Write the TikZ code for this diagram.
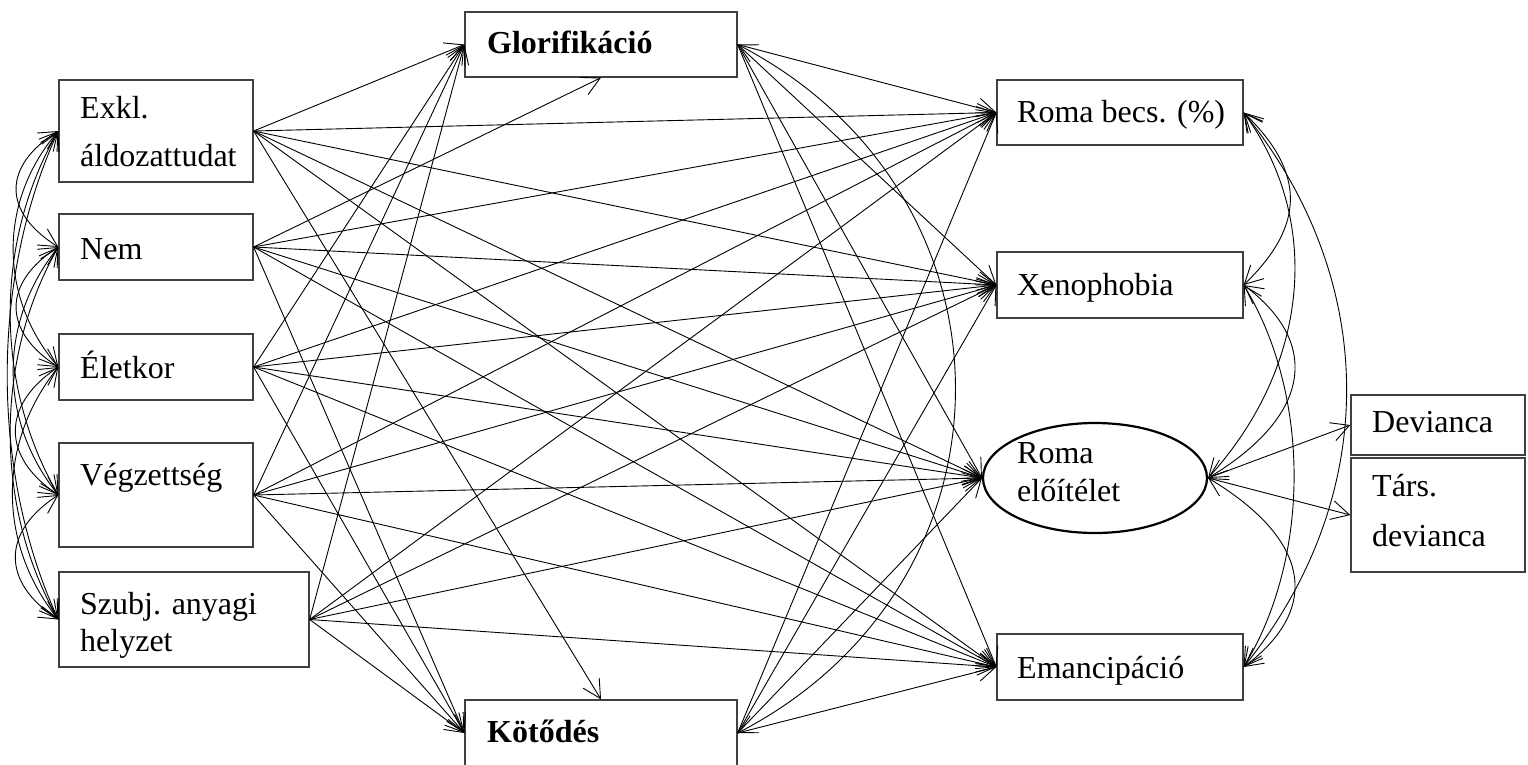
\documentclass[tikz,border=0pt]{standalone}
\usepackage{fontspec}
\setmainfont{Liberation Serif}
\usetikzlibrary{arrows.meta,shapes.geometric}
\begin{document}
\begin{tikzpicture}[x=1pt,y=-1pt,
  box/.style={draw=black!75, line width=1.3pt, rectangle, inner sep=0pt},
  lbl/.style={anchor=base west, inner sep=0pt, font=\fontsize{32}{38}\selectfont},
  blbl/.style={anchor=base west, inner sep=0pt, font=\fontsize{32}{38}\selectfont\bfseries},
  barb/.tip={Straight Barb[length=18pt,width=19pt]},
  pth/.style={line width=0.9pt, -barb},
  cor/.style={line width=0.9pt, barb-barb},
]
\useasboundingbox (0,0) rectangle (1528,764);
% boxes
\node[box, minimum width=194pt, minimum height=102pt] (exkl) at (156,131) {};
\node[box, minimum width=194pt, minimum height=66pt] (nem) at (156,247) {};
\node[box, minimum width=194pt, minimum height=66pt] (elet) at (156,367) {};
\node[box, minimum width=194pt, minimum height=104pt] (vegz) at (156,495) {};
\node[box, minimum width=250pt, minimum height=95pt] (szubj) at (184,619.5) {};
\node[box, minimum width=272pt, minimum height=65pt] (glor) at (601,44.5) {};
\node[box, minimum width=272pt, minimum height=66pt] (kot) at (601,733) {};
\node[box, minimum width=246pt, minimum height=65pt] (romab) at (1120,112.5) {};
\node[box, minimum width=246pt, minimum height=66pt] (xeno) at (1120,285) {};
\node[draw, ellipse, line width=2.2pt, minimum width=224pt, minimum height=110pt, inner sep=0pt] (elo) at (1095,478) {};
\node[box, minimum width=246pt, minimum height=66pt] (eman) at (1120,667) {};
\node[box, minimum width=174pt, minimum height=60pt] (dev) at (1438,425) {};
\node[box, minimum width=174pt, minimum height=114pt] (tars) at (1438,515) {};
% labels
\node[lbl] (t1a) at (80,118) {Exkl.};
\node[lbl] (t1b) at (80,166) {áldozattudat};
\node[lbl] (t2) at (80,259) {Nem};
\node[lbl] (t3) at (80,378) {Életkor};
\node[lbl] (t4) at (80,485) {Végzettség};
\node[lbl] (t5a) at (80,614) {Szubj. anyagi};
\node[lbl] (t5b) at (80,651) {helyzet};
\node[blbl] (tg) at (487,53) {Glorifikáció};
\node[blbl] (tk) at (487,742) {Kötődés};
\node[lbl] (tr) at (1017,122) {Roma becs. (\%)};
\node[lbl] (tx) at (1017,295) {Xenophobia};
\node[lbl] (tea) at (1017,463) {Roma};
\node[lbl] (teb) at (1017,501) {előítélet};
\node[lbl] (tem) at (1017,678) {Emancipáció};
\node[lbl] (td) at (1372,432) {Devianca};
\node[lbl] (tta) at (1372,496) {Társ.};
\node[lbl] (ttb) at (1372,546) {devianca};
% exogenous -> mediators
\draw[pth] (exkl.east) -- (glor.west);
\draw[pth] (nem.east) -- (glor.south);
\draw[pth] (elet.east) -- (glor.west);
\draw[pth] (vegz.east) -- (glor.west);
\draw[pth] (szubj.east) -- (glor.west);
\draw[pth] (exkl.east) -- (kot.north);
\draw[pth] (nem.east) -- (kot.west);
\draw[pth] (elet.east) -- (kot.west);
\draw[pth] (vegz.east) -- (kot.west);
\draw[pth] (szubj.east) -- (kot.west);
% exogenous -> outcomes
\foreach \s in {exkl,nem,elet,vegz,szubj}{
  \draw[pth] (\s.east) -- (romab.west);
  \draw[pth] (\s.east) -- (xeno.west);
  \draw[pth] (\s.east) -- (elo.west);
  \draw[pth] (\s.east) -- (eman.west);
}
% mediators -> outcomes
\foreach \m in {glor,kot}{
  \draw[pth] (\m.east) -- (romab.west);
  \draw[pth] (\m.east) -- (xeno.west);
  \draw[pth] (\m.east) -- (elo.west);
  \draw[pth] (\m.east) -- (eman.west);
}
% latent -> indicators
\draw[pth] (elo.east) -- (dev.west);
\draw[pth] (elo.east) -- (tars.west);
% mediator correlation
\draw[cor] (glor.east) .. controls +(290,150) and +(290,-150) .. (kot.east);
% left correlations
\draw[cor] (exkl.west) .. controls +(-56,35) and +(-56,-35) .. (nem.west);
\draw[cor] (exkl.west) .. controls +(-60,70) and +(-60,-70) .. (elet.west);
\draw[cor] (exkl.west) .. controls +(-64,110) and +(-64,-110) .. (vegz.west);
\draw[cor] (exkl.west) .. controls +(-68,147) and +(-68,-147) .. (szubj.west);
\draw[cor] (nem.west) .. controls +(-56,36) and +(-56,-36) .. (elet.west);
\draw[cor] (nem.west) .. controls +(-60,75) and +(-60,-75) .. (vegz.west);
\draw[cor] (nem.west) .. controls +(-64,112) and +(-64,-112) .. (szubj.west);
\draw[cor] (elet.west) .. controls +(-57,38) and +(-57,-38) .. (vegz.west);
\draw[cor] (elet.west) .. controls +(-61,76) and +(-61,-76) .. (szubj.west);
\draw[cor] (vegz.west) .. controls +(-57,37) and +(-57,-37) .. (szubj.west);
% right correlations
\draw[cor] (romab.east) .. controls +(62,60) and +(62,-60) .. (xeno.east);
\draw[cor] (romab.east) .. controls +(80,110) and +(100,-110) .. (elo.east);
\draw[cor] (romab.east) .. controls +(137,170) and +(137,-170) .. (eman.east);
\draw[cor] (xeno.east) .. controls +(80,60) and +(100,-60) .. (elo.east);
\draw[cor] (xeno.east) .. controls +(67,110) and +(67,-110) .. (eman.east);
\draw[cor] (elo.east) .. controls +(100,60) and +(80,-60) .. (eman.east);
\end{tikzpicture}
\end{document}
